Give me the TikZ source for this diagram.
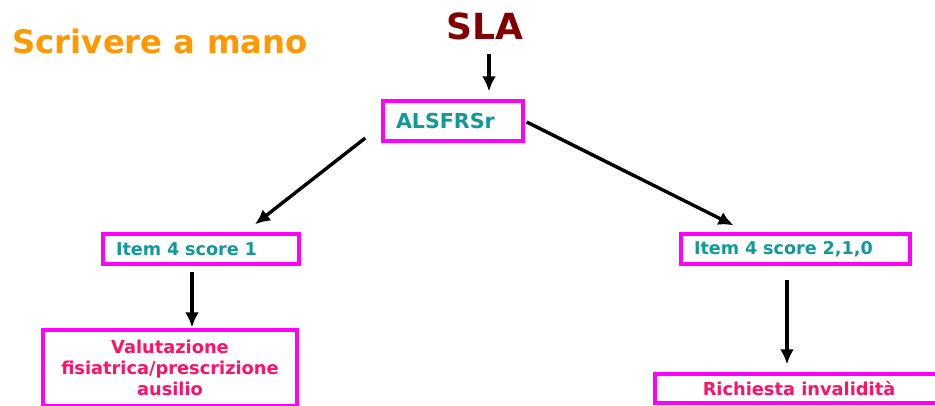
\documentclass[tikz,border=0pt]{standalone}
\usepackage{fontspec}
\setmainfont{DejaVu Sans}
\usetikzlibrary{arrows.meta,calc}

\definecolor{headorange}{HTML}{FF9900}
\definecolor{sladark}{HTML}{800000}
\definecolor{itemteal}{HTML}{119999}
\definecolor{actpink}{HTML}{FF1166}
\definecolor{boxmagenta}{HTML}{FF00FF}

\tikzset{
  box/.style={draw=boxmagenta, line width=3.4pt, inner ysep=0pt, inner xsep=13pt, minimum height=30},
  itemtxt/.style={text=itemteal, font=\bfseries\fontsize{17.6}{20}\selectfont},
  acttxt/.style={text=actpink, font=\bfseries\fontsize{17.8}{21}\selectfont},
  arr/.style={-{Latex[length=15pt,width=14pt]}, line width=3.4pt},
}

\begin{document}
\begin{tikzpicture}[x=1pt,y=-1pt]
  \clip (0,0) rectangle (935,405);
  \useasboundingbox (0,0) rectangle (935,405);

  % headings
  \node[text=headorange, font=\bfseries\fontsize{32.3}{36}\selectfont, anchor=base west]
    (hand) at (9,53) {Scrivere a mano};
  \node[text=sladark, font=\bfseries\fontsize{36}{40}\selectfont, anchor=base]
    (sla) at (485,39) {SLA};

  % boxes
  \node[box, itemtxt, font=\bfseries\fontsize{20.6}{24}\selectfont, minimum height=40,
    text width=114, align=left] (alsfrs) at (453,121) {ALSFRSr};
  \node[box, itemtxt, text width=170, align=left] (item1) at (201,249) {Item 4 score 1};
  \node[box, itemtxt, text width=203, align=left] (item2) at (795.5,249) {Item 4 score 2,1,0};
  \node[box, acttxt, inner xsep=0pt, minimum width=254, minimum height=76, align=center]
    (valut) at (170,368) {Valutazione\\fisiatrica/prescrizione\\ausilio};
  \node[box, acttxt, inner xsep=0pt, minimum width=288, minimum height=29]
    (invalid) at (799,388.5) {Richiesta invalidità};

  % arrows
  \draw[arr] ($(sla.south)+(4,11)$) -- ($(alsfrs.north)+(36,-8)$);
  \draw[arr] ($(alsfrs.west)+(-16,17)$) -- ($(item1.north)+(54,-8)$);
  \draw[arr] ($(alsfrs.east)+(2,1)$) -- ($(item2.north)+(-62,-7)$);
  \draw[arr] ($(item1.south)+(-9,6)$) -- ($(valut.north)+(22,-1)$);
  \draw[arr] ($(item2.south)+(-8.5,14)$) -- ($(invalid.north)+(-12,-8)$);
\end{tikzpicture}
\end{document}
